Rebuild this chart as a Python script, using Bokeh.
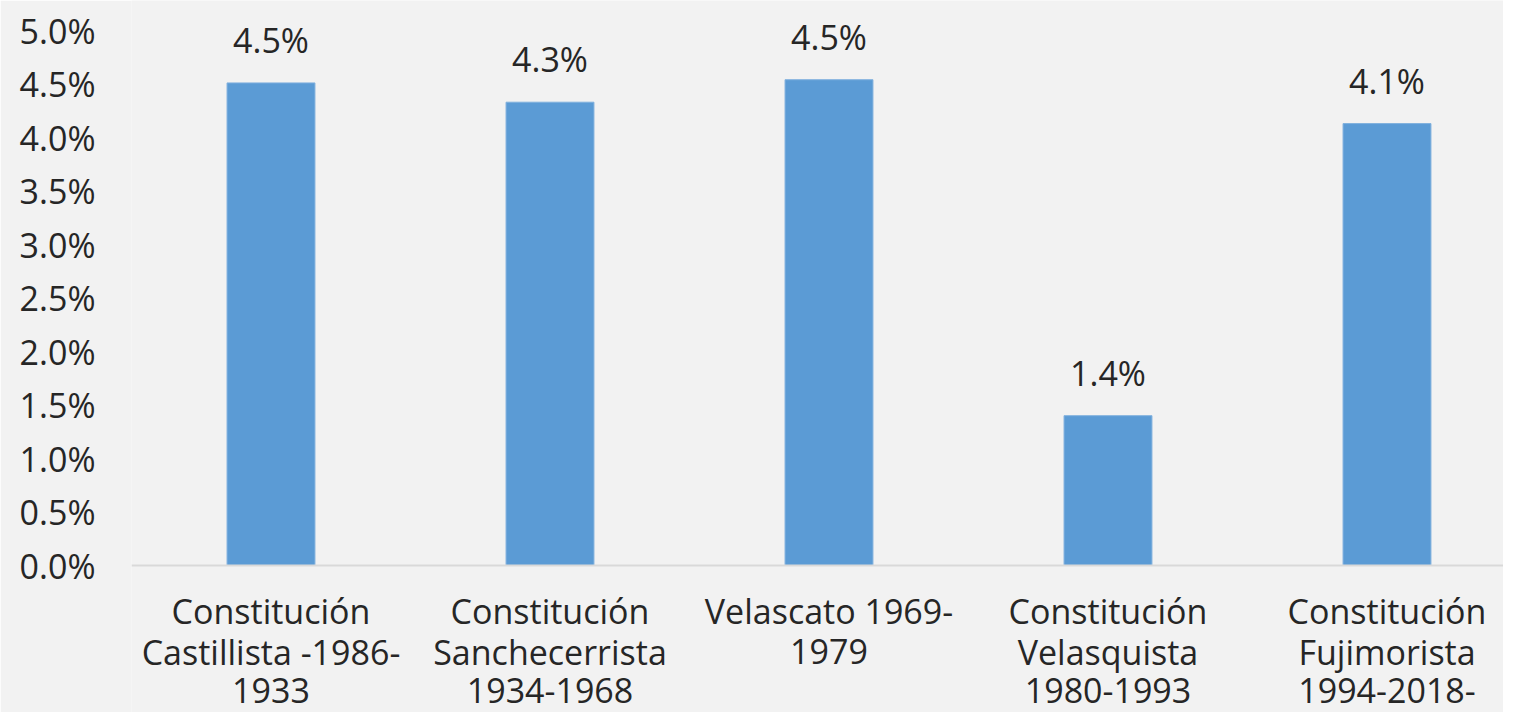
from bokeh.plotting import figure
from bokeh.models import ColumnDataSource, LabelSet, FixedTicker, NumeralTickFormatter, Range1d, Span
from bokeh.core.properties import value
from bokeh.embed import file_html
from bokeh.resources import INLINE

categories = [
    "Constitución\nCastillista -1986-\n1933",
    "Constitución\nSanchecerrista\n1934-1968",
    "Velascato 1969-\n1979",
    "Constitución\nVelasquista\n1980-1993",
    "Constitución\nFujimorista\n1994-2018-",
]
values = [0.0451, 0.0433, 0.0454, 0.0140, 0.0413]
value_labels = ["4.5%", "4.3%", "4.5%", "1.4%", "4.1%"]
y_ticks = [0.0, 0.005, 0.01, 0.015, 0.02, 0.025, 0.03, 0.035, 0.04, 0.045, 0.05]

FONT = "Open Sans"
TXT = "#262626"
BG = "#f2f2f2"
FS = "34px"

W, H = 1503, 712
LEFT = 131          # frame left (px)
BASE = 565          # pixel row of the 0% baseline
PX_PER_UNIT = 535 / 0.05
CAT_W = 279         # px per category

y_start = -(H - BASE) / PX_PER_UNIT
y_end = BASE / PX_PER_UNIT
x_end = -0.5 + (W - LEFT) / CAT_W

xs = list(range(len(categories)))
src = ColumnDataSource(dict(x=xs, top=values, lab=value_labels))

# category label lines (one row per text line, placed under each bar)
line_offsets = [45, 86, 125]
cx, cy, ctext = [], [], []
for i, c in enumerate(categories):
    for j, line in enumerate(c.split("\n")):
        cx.append(i)
        cy.append(-line_offsets[j] / PX_PER_UNIT)
        ctext.append(line)
csrc = ColumnDataSource(dict(x=cx, y=cy, text=ctext))

p = figure(width=W, height=H, output_backend="svg", toolbar_location=None,
           x_range=Range1d(-0.5, x_end), y_range=Range1d(y_start, y_end),
           min_border_left=LEFT, min_border_right=0, min_border_top=0, min_border_bottom=0)
p.background_fill_color = BG
p.border_fill_color = BG
p.outline_line_color = None
p.grid.visible = False
p.xaxis.visible = False

p.add_layout(Span(location=0, dimension="width", line_color="#d9d9d9", line_width=2))

p.vbar(x="x", top="top", width=0.315, bottom=0, source=src,
       fill_color="#5b9bd5", line_color="#7fb0de", line_width=1)

labels = LabelSet(x="x", y="top", text="lab", source=src, text_align="center",
                  text_baseline="middle", y_offset=43, text_font=value(FONT),
                  text_font_size=value(FS), text_color=value(TXT))
p.add_layout(labels)

p.text(x="x", y="y", text="text", source=csrc, text_align="center",
       text_baseline="middle", text_font=value(FONT), text_font_size=value(FS),
       text_color=TXT)

p.yaxis.ticker = FixedTicker(ticks=y_ticks)
p.yaxis.formatter = NumeralTickFormatter(format="0.0%")
p.yaxis.axis_line_color = None
p.yaxis.major_tick_line_color = None
p.yaxis.minor_tick_line_color = None
p.yaxis.major_label_standoff = 30
p.yaxis.major_label_text_font = FONT
p.yaxis.major_label_text_font_size = FS
p.yaxis.major_label_text_color = TXT

open("out.html", "w").write(file_html(p, INLINE))
